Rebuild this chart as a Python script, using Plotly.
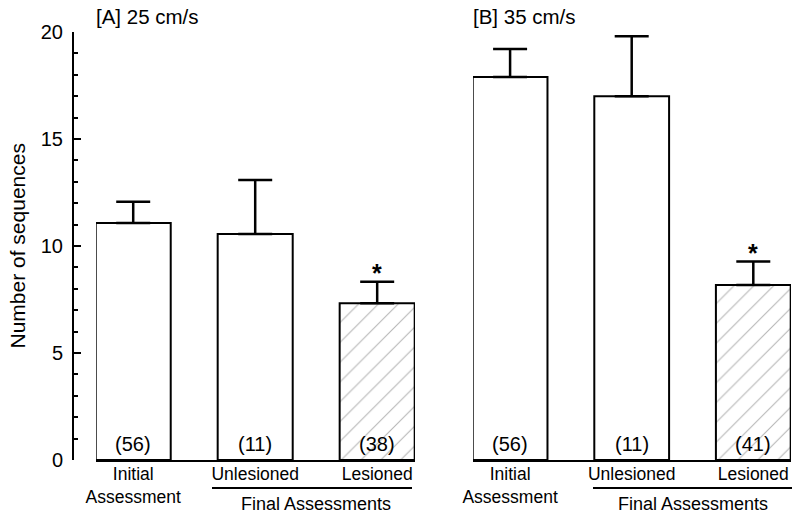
import plotly.graph_objects as go

W, H = 800, 519

categories = ["Initial<br>Assessment", "Unlesioned", "Lesioned"]
means_a = [11.07, 10.56, 7.32]
err_a = [1.0, 2.52, 1.01]
n_a = ["(56)", "(11)", "(38)"]
means_b = [17.9, 17.0, 8.18]
err_b = [1.3, 2.8, 1.09]
n_b = ["(56)", "(11)", "(41)"]
hatched = [False, False, True]
sig = [False, False, True]

FONT = "Liberation Sans, Arial, Helvetica, sans-serif"

def px(x):
    return x / W

def py(y):
    return 1 - y / H

fig = go.Figure()

def add_panel(means, errs, ns, xa):
    fig.add_trace(go.Bar(
        x=categories, y=means, xaxis=xa, yaxis="y",
        width=0.615,
        marker=dict(
            color="white",
            line=dict(color="black", width=2),
            pattern=dict(
                shape=["/" if h else "" for h in hatched],
                fgcolor="#707070", bgcolor="white", size=14, solidity=0.08,
            ),
        ),
        error_y=dict(type="data", symmetric=False, array=errs,
                     arrayminus=[0] * len(errs), color="black",
                     thickness=2.5, width=17),
        showlegend=False, hoverinfo="skip",
    ))
    xref = "x" if xa == "x" else "x2"
    for i, (c, t) in enumerate(zip(categories, ns)):
        fig.add_annotation(x=i, y=0, xref=xref, yref="y", text=t,
                           showarrow=False, yanchor="bottom", yshift=3,
                           font=dict(family=FONT, size=20, color="black"))
        if sig[i]:
            fig.add_annotation(x=i, y=means[i] + errs[i], xref=xref, yref="y",
                               text="<b>*</b>", showarrow=False,
                               yanchor="bottom", yshift=-7,
                               font=dict(family=FONT, size=25, color="black"))
    fig.add_annotation(x=1.5, y=py(504), xref=xref, yref="paper",
                       text="Final Assessments", showarrow=False,
                       yanchor="middle",
                       font=dict(family=FONT, size=18, color="black"))

add_panel(means_a, err_a, n_a, "x")
add_panel(means_b, err_b, n_b, "x2")

# underlines for "Final Assessments"
for x0, x1 in [(212, 412), (593, 792)]:
    fig.add_shape(type="line", xref="paper", yref="paper",
                  x0=px(x0), x1=px(x1), y0=py(488), y1=py(488),
                  line=dict(color="black", width=2))

# panel titles
fig.add_annotation(x=px(94), y=py(17), xref="paper", yref="paper",
                   text="[A] 25 cm/s", showarrow=False, xanchor="left",
                   yanchor="middle", font=dict(family=FONT, size=20.5, color="black"))
fig.add_annotation(x=px(471), y=py(17), xref="paper", yref="paper",
                   text="[B] 35 cm/s", showarrow=False, xanchor="left",
                   yanchor="middle", font=dict(family=FONT, size=20.5, color="black"))

# y title
fig.add_annotation(x=px(17), y=py(246.5), xref="paper", yref="paper",
                   text="Number of sequences", showarrow=False, textangle=-90,
                   xanchor="center", yanchor="middle",
                   font=dict(family=FONT, size=21, color="black"))

xcommon = dict(
    type="category", range=[-0.305, 2.31], showline=True, linecolor="black",
    linewidth=2, ticks="", showgrid=False, zeroline=False, anchor="y",
    tickfont=dict(family=FONT, size=17.5, color="black"),
    ticklabelstandoff=-3, automargin=False,
)

fig.update_layout(
    width=W, height=H,
    margin=dict(l=0, r=0, t=0, b=0, autoexpand=False),
    paper_bgcolor="white", plot_bgcolor="white",
    xaxis=dict(domain=[px(96), px(415)], **xcommon),
    xaxis2=dict(domain=[px(473), px(791)], **xcommon),
    yaxis=dict(
        domain=[py(460), py(32)], range=[0, 20], anchor="free", position=px(73),
        showline=True, linecolor="black", linewidth=2, showgrid=False,
        zeroline=False, ticks="inside", ticklen=7, tickwidth=2, tickcolor="black",
        dtick=5, tick0=0, automargin=False,
        minor=dict(ticks="inside", ticklen=4, tickwidth=2, tickcolor="black",
                   dtick=1, showgrid=False),
        tickfont=dict(family=FONT, size=20, color="black"),
        ticklabelstandoff=5,
    ),
)

fig.write_html(
    "out.html",
    config={"displayModeBar": False, "staticPlot": True},
    post_script="document.body.style.margin='0px';document.body.style.overflow='hidden';",
)
